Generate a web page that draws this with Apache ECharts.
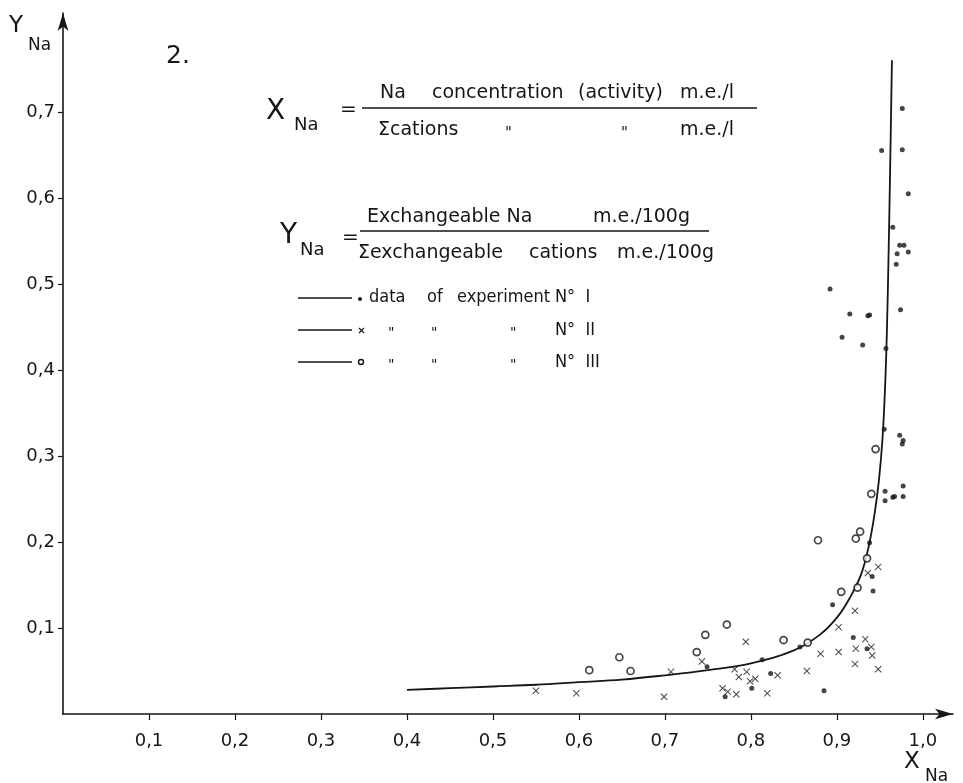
<!DOCTYPE html>
<html>
<head>
<meta charset="utf-8">
<script src="https://cdn.jsdelivr.net/npm/echarts@6/dist/echarts.min.js"></script>
<style>
    html, body { margin: 0; padding: 0; background: #fff; }
    #chart { width: 963px; height: 783px; }
</style>
</head>
<body>
<div id="chart"></div>
<script>
    // tick values (labels use a decimal comma)
    const xTicks = [0.1, 0.2, 0.3, 0.4, 0.5, 0.6, 0.7, 0.8, 0.9, 1.0];
    const yTicks = [0.1, 0.2, 0.3, 0.4, 0.5, 0.6, 0.7];

    // fitted exchange curve
    const curve = [
        [0.400, 0.028], [0.45, 0.030], [0.50, 0.032], [0.55, 0.034], [0.60, 0.037],
        [0.65, 0.040], [0.70, 0.045], [0.75, 0.051], [0.80, 0.059], [0.85, 0.074],
        [0.88, 0.092], [0.90, 0.112], [0.915, 0.135], [0.928, 0.162], [0.937, 0.195],
        [0.944, 0.234], [0.949, 0.273], [0.953, 0.320], [0.956, 0.380], [0.958, 0.440],
        [0.960, 0.530], [0.962, 0.640], [0.964, 0.760]
    ];

    // data of experiment N° I (dots)
    const exp1 = [
        [0.976, 0.704], [0.952, 0.655], [0.976, 0.656], [0.983, 0.605], [0.965, 0.566],
        [0.973, 0.545], [0.978, 0.545], [0.970, 0.535], [0.983, 0.537], [0.969, 0.523],
        [0.974, 0.470], [0.892, 0.494], [0.915, 0.465], [0.936, 0.463], [0.938, 0.464],
        [0.906, 0.438], [0.930, 0.429], [0.957, 0.425], [0.955, 0.331], [0.973, 0.324],
        [0.977, 0.318], [0.976, 0.314], [0.956, 0.259], [0.956, 0.248], [0.965, 0.252],
        [0.967, 0.253], [0.977, 0.265], [0.977, 0.253], [0.938, 0.199], [0.941, 0.160],
        [0.942, 0.143], [0.895, 0.127], [0.919, 0.089], [0.935, 0.076], [0.857, 0.078],
        [0.813, 0.063], [0.749, 0.055], [0.823, 0.047], [0.801, 0.030], [0.770, 0.020],
        [0.885, 0.027]
    ];

    // data of experiment N° II (crosses)
    const exp2 = [
        [0.948, 0.171], [0.936, 0.164], [0.921, 0.120], [0.902, 0.101], [0.933, 0.087],
        [0.940, 0.078], [0.922, 0.076], [0.941, 0.068], [0.902, 0.072], [0.881, 0.070],
        [0.921, 0.058], [0.948, 0.052], [0.794, 0.084], [0.743, 0.061], [0.781, 0.052],
        [0.795, 0.049], [0.786, 0.043], [0.799, 0.038], [0.805, 0.041], [0.831, 0.045],
        [0.865, 0.050], [0.767, 0.030], [0.773, 0.026], [0.783, 0.023], [0.819, 0.024],
        [0.707, 0.049], [0.699, 0.020], [0.597, 0.024], [0.550, 0.027]
    ];

    // data of experiment N° III (open circles)
    const exp3 = [
        [0.945, 0.308], [0.940, 0.256], [0.927, 0.212], [0.922, 0.204], [0.935, 0.181],
        [0.924, 0.147], [0.905, 0.142], [0.878, 0.202], [0.866, 0.083], [0.838, 0.086],
        [0.772, 0.104], [0.747, 0.092], [0.737, 0.072], [0.612, 0.051], [0.647, 0.066],
        [0.660, 0.050]
    ];

    const ink = '#161616';
    const textFont = "'DejaVu Sans', sans-serif";
    const keyFont = "'DejaVu Sans Condensed', 'DejaVu Sans', sans-serif";
    const comma = v => v.toFixed(1).replace('.', ',');

    function txt(text, x, y, size, align, family) {
        return {
            type: 'text', silent: true,
            style: {
                text: text, x: x, y: y, fill: ink,
                fontSize: size, fontFamily: family || textFont,
                textAlign: align || 'left', textVerticalAlign: 'middle'
            }
        };
    }
    function seg(x1, y1, x2, y2, w) {
        return {
            type: 'line', silent: true,
            shape: { x1: x1, y1: y1, x2: x2, y2: y2 },
            style: { stroke: ink, lineWidth: w || 1.3 }
        };
    }

    const graphics = [
        // axis names and figure number
        txt('Y', 9, 26, 23), txt('Na', 28, 46, 17),
        txt('X', 904, 762, 23), txt('Na', 925, 777, 17),
        txt('2.', 166, 56, 25),

        // X_Na definition
        txt('X', 266, 112, 28), txt('Na', 294, 125, 18), txt('=', 340, 110, 20),
        txt('Na', 380, 93, 19), txt('concentration', 432, 93, 19),
        txt('(activity)', 578, 93, 19), txt('m.e./l', 680, 93, 19),
        seg(362, 108, 757, 108),
        txt('\u03A3cations', 378, 130, 19), txt('"', 505, 134, 15),
        txt('"', 621, 134, 15), txt('m.e./l', 680, 130, 19),

        // Y_Na definition
        txt('Y', 280, 236, 28), txt('Na', 300, 250, 18), txt('=', 342, 238, 20),
        txt('Exchangeable Na', 367, 217, 19), txt('m.e./100g', 593, 217, 19),
        seg(360, 231, 709, 231),
        txt('\u03A3exchangeable', 358, 253, 19), txt('cations', 529, 253, 19),
        txt('m.e./100g', 617, 253, 19),

        // key
        seg(298, 298, 352, 298, 1.4),
        { type: 'circle', silent: true, shape: { cx: 360, cy: 299, r: 2 }, style: { fill: ink } },
        txt('data', 369, 297, 18, 'left', keyFont), txt('of', 427, 297, 18, 'left', keyFont),
        txt('experiment', 457, 297, 18, 'left', keyFont),
        txt('N\u00B0  I', 555, 297, 18, 'left', keyFont),

        seg(298, 330, 352, 330, 1.4),
        seg(359, 328, 364, 333, 1.1), seg(364, 328, 359, 333, 1.1),
        txt('"', 388, 333, 14), txt('"', 431, 333, 14), txt('"', 510, 333, 14),
        txt('N\u00B0  II', 555, 330, 18, 'left', keyFont),

        seg(298, 362, 352, 362, 1.4),
        { type: 'circle', silent: true, shape: { cx: 361, cy: 362, r: 2.5 }, style: { fill: '#fff', stroke: ink, lineWidth: 1.4 } },
        txt('"', 388, 365, 14), txt('"', 431, 365, 14), txt('"', 510, 365, 14),
        txt('N\u00B0  III', 555, 362, 18, 'left', keyFont)
    ];

    const chart = echarts.init(document.getElementById('chart'));
    const option = {
        animation: false,
        backgroundColor: '#fff',
        grid: { left: 63, right: 10, top: 13, bottom: 69, containLabel: false, outerBoundsMode: 'none' },
        xAxis: {
            type: 'value', min: 0, max: 1.035,
            splitLine: { show: false },
            axisLine: { symbol: ['none', 'arrow'], symbolSize: [8, 18], lineStyle: { color: ink, width: 1.6 } },
            axisTick: { customValues: xTicks, length: 6, lineStyle: { color: ink, width: 1.2 } },
            axisLabel: {
                customValues: xTicks, margin: 18, color: ink, fontSize: 18, fontFamily: textFont,
                formatter: v => (v > 0.05 && v < 1.01 ? comma(v) : '')
            }
        },
        yAxis: {
            type: 'value', min: 0, max: 0.815,
            splitLine: { show: false },
            axisLine: { symbol: ['none', 'arrow'], symbolSize: [8, 18], lineStyle: { color: ink, width: 1.6 } },
            axisTick: { customValues: yTicks, length: 5, lineStyle: { color: ink, width: 1.2 } },
            axisLabel: {
                customValues: yTicks, margin: 8, color: ink, fontSize: 18, fontFamily: textFont,
                formatter: v => (v > 0.05 && v < 0.75 ? comma(v) : '')
            }
        },
        series: [
            {
                name: 'curve', type: 'line', data: curve,
                smooth: 0.4, showSymbol: false, silent: true,
                lineStyle: { color: ink, width: 1.8 }, z: 2
            },
            {
                name: 'N° I', type: 'scatter', data: exp1,
                symbol: 'circle', symbolSize: 5, itemStyle: { color: ink }, z: 3
            },
            {
                name: 'N° II', type: 'scatter', data: exp2,
                symbol: 'path://M0,1L1,0L5,4L9,0L10,1L6,5L10,9L9,10L5,6L1,10L0,9L4,5Z',
                symbolSize: 7, itemStyle: { color: ink }, z: 3
            },
            {
                name: 'N° III', type: 'scatter', data: exp3,
                symbol: 'circle', symbolSize: 7,
                itemStyle: { color: '#fff', borderColor: ink, borderWidth: 1.7 }, z: 4
            }
        ],
        graphic: graphics
    };
    chart.setOption(option);

    window.addEventListener('resize', function () {
        chart.resize();
    });
</script>
</body>
</html>
